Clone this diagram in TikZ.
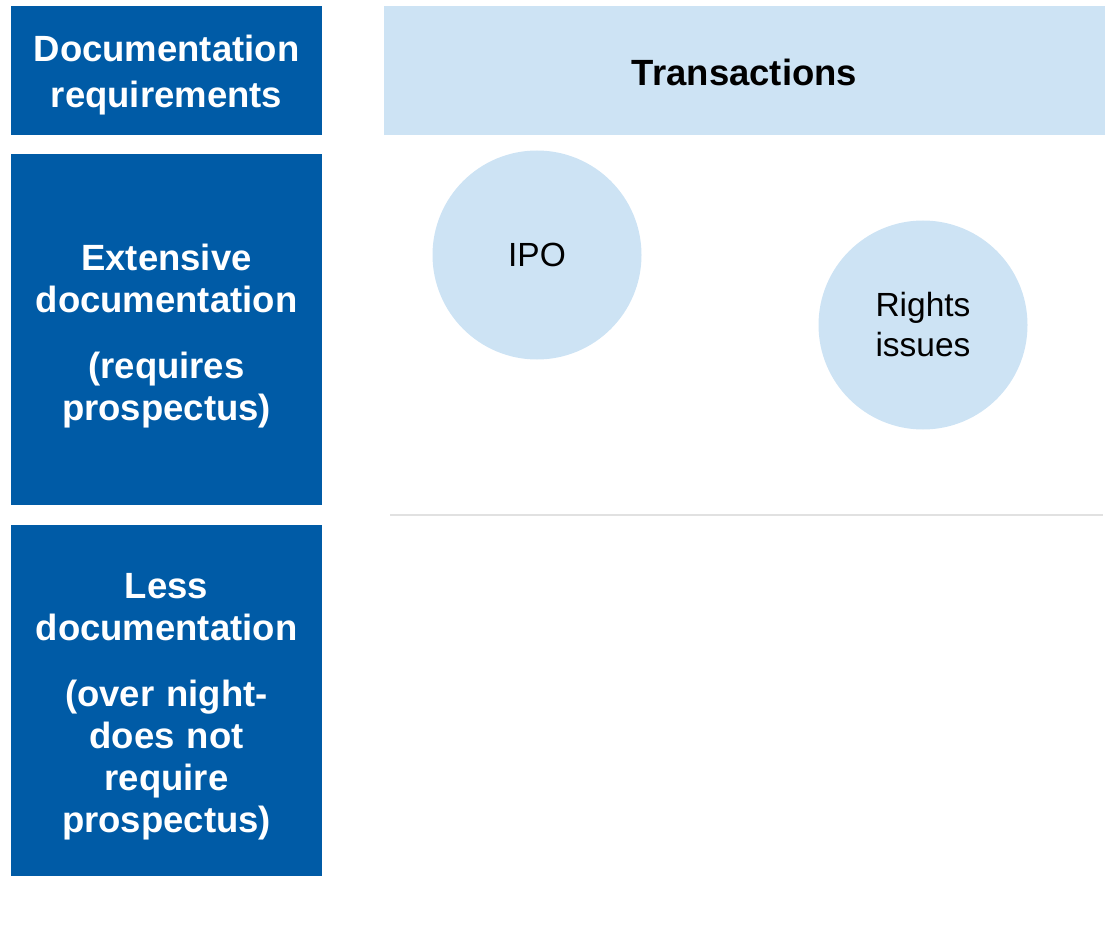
\documentclass[tikz,border=0pt]{standalone}
\usepackage{fontspec}
\setmainfont{Liberation Sans}
\usetikzlibrary{positioning, shapes.geometric}
\definecolor{docblue}{RGB}{0,91,166}
\definecolor{paleblue}{RGB}{205,227,244}
\definecolor{rulegray}{RGB}{225,225,225}
\tikzset{
  levelbox/.style={fill=docblue, inner sep=0pt, minimum width=311pt},
  leveltext/.style={text=white, inner sep=0pt, text width=305pt, align=center, font=\fontsize{36.5}{42}\selectfont\bfseries},
  dealbubble/.style={circle, fill=paleblue, inner sep=0pt, minimum size=209pt, align=center, font=\fontsize{33.5}{40}\selectfont}
}

\begin{document}
\begin{tikzpicture}[x=1pt, y=-1pt]
  \useasboundingbox (0,0) rectangle (1107,949);
  % left column
  \node[levelbox, minimum height=129pt] (head) at (166.5,70.5) {};
  \node[levelbox, minimum height=351pt] (extensive) at (166.5,329.5) {};
  \node[levelbox, minimum height=351pt] (less) at (166.5,700.5) {};
  \node[leveltext, font=\fontsize{36.5}{46}\selectfont\bfseries] (head-text) at ([yshift=-5pt]head.center) {Documentation\\requirements};
  \node[leveltext] (extensive-text) at ([yshift=-7pt]extensive.center) {Extensive\\documentation\\[24pt](requires\\prospectus)};
  \node[leveltext] (less-text) at ([yshift=-6pt]less.center) {Less\\documentation\\[24pt](over night-\\does not\\require\\prospectus)};

  % transactions
  \node[fill=paleblue, inner sep=0pt, minimum width=721pt, minimum height=129pt] (trans) at (744.5,70.5) {};
  \node[font=\fontsize{36.5}{42}\selectfont\bfseries, inner sep=0pt] (trans-text) at ([yshift=-2pt]trans.center) {Transactions};

  \node[dealbubble] (ipo) at (537,255) {IPO};
  \node[dealbubble] (rights) at (923,325) {Rights\\issues};

  \draw[rulegray, line width=2pt] (390,515) -- (1103,515);
\end{tikzpicture}
\end{document}
